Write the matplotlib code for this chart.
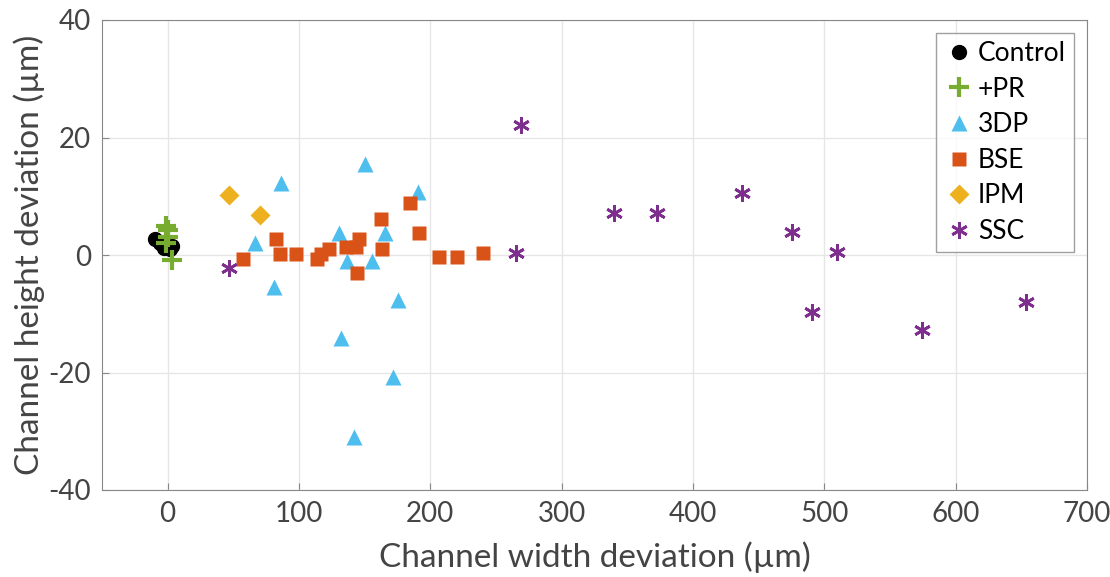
import numpy as np
import matplotlib
matplotlib.use("Agg")
import matplotlib.pyplot as plt

# data
ctrl_x = [-10, -6, -3, 2, 3]
ctrl_y = [2.8, 2.0, 1.2, 1.0, 1.5]
pr_x = [-1, 0, 0, -1, 3]
pr_y = [5.0, 4.2, 3.0, 2.0, -0.8]
tdp_x = [150.5, 86, 190.6, 66.3, 130.5, 165.3, 136.6, 155.6, 80.7, 175.4, 132, 171.4, 141.7]
tdp_y = [15.5, 12.2, 10.8, 2.0, 3.7, 3.7, -1.0, -1.0, -5.4, -7.7, -14.1, -20.8, -31.0]
bse_x = [184.8, 162.7, 191.4, 82.3, 145.7, 163.5, 136, 143.7, 122.9, 117, 113.7, 85.8, 97.5, 57.4, 144.2, 206.6, 220.6, 240]
bse_y = [8.8, 6.2, 3.7, 2.7, 2.7, 1.0, 1.3, 1.3, 1.0, 0.2, -0.7, 0.2, 0.2, -0.7, -3.0, -0.4, -0.4, 0.4]
ipm_x = [46.7, 70.6]
ipm_y = [10.2, 6.8]
ssc_x = [46.5, 268.8, 265, 339.7, 372.4, 437.2, 475.2, 509.5, 490.5, 574.3, 653.5]
ssc_y = [-2.2, 22.1, 0.3, 7.1, 7.1, 10.6, 3.9, 0.5, -9.7, -12.8, -8.0]

plt.rcParams['font.family'] = ['Lato', 'DejaVu Sans']
plt.rcParams['axes.unicode_minus'] = False

fig = plt.figure(figsize=(11.1, 5.77), dpi=100)
ax = fig.add_axes([102/1110, 1 - 490/577, (1087-102)/1110, (490-20)/577])

star = (6, 2, 0)
ax.plot(ctrl_x, ctrl_y, 'o', color='black', ms=10, label='Control', zorder=3)
ax.plot(pr_x, pr_y, '+', color='#77AC30', ms=14, mew=3, label='+PR', zorder=3)
ax.plot(tdp_x, tdp_y, '^', color='#4DBEEE', ms=12, mec='none', label='3DP', zorder=3)
ax.plot(bse_x, bse_y, 's', color='#D95319', ms=10, mec='none', label='BSE', zorder=3)
ax.plot(ipm_x, ipm_y, 'D', color='#EDB120', ms=10, mec='none', label='IPM', zorder=3)
ax.plot(ssc_x, ssc_y, ls='none', marker=star, color='#7E2F8E', ms=12, mew=2, label='SSC', zorder=3)

ax.set_xlim(-50, 700)
ax.set_ylim(-40, 40)
ax.set_xticks(np.arange(0, 701, 100))
ax.set_yticks(np.arange(-40, 41, 20))
ax.grid(True, color='#e6e6e6', lw=1)
ax.set_axisbelow(True)
for s in ax.spines.values():
    s.set_color('#888888')
ax.tick_params(direction='in', length=5, color='#888888', labelsize=20, labelcolor='#444444', pad=8)
ax.set_xlabel('Channel width deviation (µm)', fontsize=24, color='#444444', labelpad=10)
ax.set_ylabel('Channel height deviation (µm)', fontsize=24, color='#444444', labelpad=2)

leg = ax.legend(loc='upper right', fontsize=19, frameon=True, fancybox=False,
                edgecolor='#888888', handletextpad=0.1, labelspacing=0.4,
                borderpad=0.3, handlelength=1.2, borderaxespad=0.5)
leg.get_frame().set_linewidth(1)

fig.savefig('out.png', dpi=100)
